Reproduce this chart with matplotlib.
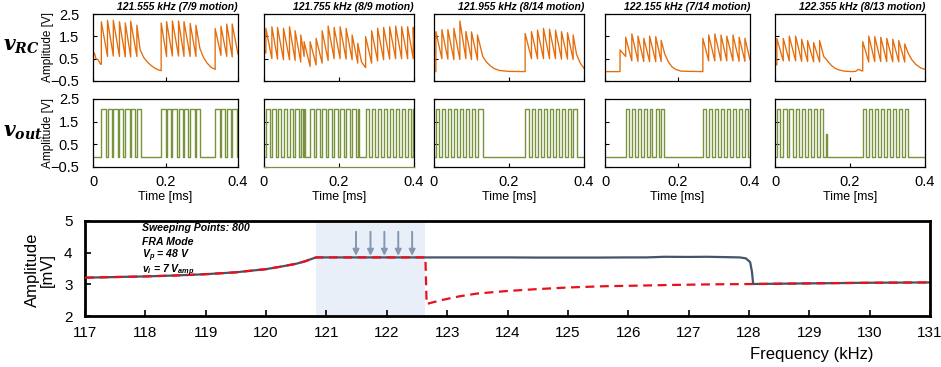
import matplotlib
matplotlib.use("Agg")
import matplotlib.pyplot as plt
import numpy as np

plt.rcParams["font.family"] = ["Liberation Sans", "DejaVu Sans"]
plt.rcParams["mathtext.fontset"] = "custom"
plt.rcParams["mathtext.it"] = "Liberation Sans:italic:bold"
plt.rcParams["mathtext.rm"] = "Liberation Sans:italic:bold"
plt.rcParams["mathtext.bf"] = "DejaVu Serif:italic:bold"

# ---- top panels: titles ----
TITLES = [
    "121.555 kHz (7/9 motion)",
    "121.755 kHz (8/9 motion)",
    "121.955 kHz (8/14 motion)",
    "122.155 kHz (7/14 motion)",
    "122.355 kHz (8/13 motion)",
]

# v_RC traces: vertex time [ms], value just before and just after the vertex [V]
P1_RC_T = [0.000, 0.004, 0.008, 0.014, 0.021,
           0.023, 0.040, 0.056, 0.073, 0.089, 0.104, 0.121,
           0.130, 0.140, 0.150, 0.160, 0.170, 0.180,
           0.188, 0.203, 0.219, 0.236, 0.251, 0.268, 0.284,
           0.295, 0.305, 0.315, 0.325,
           0.337, 0.353, 0.369, 0.384, 0.400]
P1_RC_LO = [0.62, 0.75, 0.50, 0.45, 0.25,
            0.25, 0.60, 0.62, 0.60, 0.58, 0.58, 0.60,
            0.90, 0.55, 0.35, 0.20, 0.08, 0.00,
            -0.04, 0.60, 0.62, 0.62, 0.60, 0.60, 0.60,
            0.95, 0.55, 0.30, 0.12,
            0.02, 0.65, 0.60, 0.58, 0.70]
P1_RC_HI = [0.62, 0.75, 0.50, 0.45, 0.25,
            2.15, 2.22, 2.22, 2.15, 2.10, 2.18, 2.00,
            0.90, 0.55, 0.35, 0.20, 0.08, 0.00,
            2.10, 2.16, 2.19, 2.19, 2.16, 2.08, 2.00,
            0.95, 0.55, 0.30, 0.12,
            1.85, 1.95, 2.05, 2.05, 0.70]

P2_RC_T = [0.000, 0.005, 0.021, 0.036, 0.052, 0.068, 0.083, 0.098, 0.107,
           0.123, 0.139, 0.155, 0.171, 0.187, 0.203, 0.219, 0.235, 0.250,
           0.260, 0.270,
           0.271, 0.287, 0.303, 0.319, 0.335, 0.351, 0.367, 0.383, 0.398, 0.400]
P2_RC_LO = [0.90, 0.75, 0.50, 0.48, 0.45, 0.45, 0.42, 0.35, 0.60,
            0.15, 0.22, 0.30, 0.42, 0.50, 0.50, 0.48, 0.45, 0.30,
            0.35, 0.12,
            0.10, 0.30, 0.40, 0.45, 0.48, 0.50, 0.50, 0.50, 0.50, 0.90]
P2_RC_HI = [0.90, 1.86, 1.93, 1.90, 1.86, 1.93, 1.75, 1.56, 1.26,
            1.26, 1.41, 1.75, 1.96, 1.90, 1.93, 1.86, 1.56, 1.19,
            0.35, 0.12,
            1.49, 1.75, 1.86, 1.90, 1.93, 1.96, 1.93, 1.93, 1.90, 0.90]

P3_RC_T = [0.000,
           0.005, 0.021, 0.037, 0.053, 0.069, 0.085, 0.100, 0.116,
           0.130, 0.140, 0.150, 0.160, 0.175, 0.200, 0.242,
           0.243, 0.260, 0.276, 0.292, 0.308, 0.324, 0.340, 0.356, 0.371,
           0.380, 0.390, 0.400]
P3_RC_LO = [-0.08,
            -0.08, 0.50, 0.48, 0.46, 0.46, 0.50, 0.46, 0.44,
            0.60, 0.35, 0.18, 0.06, -0.03, -0.07, -0.08,
            -0.08, 0.50, 0.50, 0.50, 0.50, 0.50, 0.48, 0.48, 0.46,
            0.70, 0.30, 0.07]
P3_RC_HI = [-0.08,
            1.71, 1.80, 1.80, 1.86, 2.19, 1.72, 1.70, 1.56,
            0.60, 0.35, 0.18, 0.06, -0.03, -0.07, -0.08,
            1.63, 1.71, 1.78, 1.86, 1.82, 1.78, 1.71, 1.66, 1.56,
            0.70, 0.30, 0.07]

P4_RC_T = [0.000, 0.0415,
           0.057, 0.074, 0.091, 0.107, 0.123, 0.140, 0.155,
           0.165, 0.175, 0.185, 0.195, 0.210, 0.269,
           0.270, 0.286, 0.303, 0.320, 0.336, 0.353, 0.370, 0.386, 0.400]
P4_RC_LO = [-0.08, -0.08,
            0.60, 0.40, 0.38, 0.37, 0.37, 0.37, 0.37,
            0.70, 0.35, 0.13, 0.02, -0.06, -0.08,
            -0.08, 0.40, 0.40, 0.40, 0.40, 0.40, 0.38, 0.38, 0.45]
P4_RC_HI = [-0.08, 0.89,
            1.46, 1.61, 1.51, 1.41, 1.51, 1.49, 1.32,
            0.70, 0.35, 0.13, 0.02, -0.06, -0.08,
            1.41, 1.56, 1.61, 1.56, 1.51, 1.56, 1.46, 1.41, 0.45]

P5_RC_T = [0.000,
           0.005, 0.022, 0.038, 0.055, 0.071, 0.087, 0.103, 0.119,
           0.130, 0.140, 0.150, 0.160, 0.170, 0.185, 0.205, 0.215, 0.222, 0.226, 0.232,
           0.234, 0.250, 0.266, 0.282, 0.298, 0.314, 0.330, 0.346,
           0.355, 0.365, 0.375, 0.388, 0.400]
P5_RC_LO = [0.30,
            0.22, 0.40, 0.40, 0.40, 0.38, 0.37, 0.36, 0.35,
            0.60, 0.40, 0.20, 0.07, 0.00, -0.06, -0.08, -0.07, 0.02, 0.00, -0.05,
            -0.05, 0.35, 0.37, 0.37, 0.37, 0.36, 0.36, 0.35,
            0.75, 0.45, 0.25, 0.09, 0.02]
P5_RC_HI = [0.30,
            1.40, 1.41, 1.51, 1.51, 1.37, 1.31, 1.22, 1.31,
            0.60, 0.40, 0.20, 0.07, 0.00, -0.06, -0.08, -0.07, 0.02, 0.00, -0.05,
            1.26, 1.51, 1.49, 1.46, 1.41, 1.37, 1.31, 1.16,
            0.75, 0.45, 0.25, 0.09, 0.02]

# v_out pulses: rising / falling edge times [ms]
OUT_LOW = -0.07
OUT_HIGH = 2.07
P1_OUT_RISE = [0.023, 0.040, 0.056, 0.073, 0.089, 0.104, 0.121,
               0.188, 0.203, 0.219, 0.236, 0.251, 0.268, 0.284,
               0.337, 0.353, 0.369, 0.384]
P1_OUT_FALL = [0.035, 0.052, 0.068, 0.084, 0.101, 0.116, 0.132,
               0.200, 0.215, 0.232, 0.248, 0.263, 0.280, 0.296,
               0.349, 0.365, 0.381, 0.396]
P2_OUT_RISE = [0.005, 0.021, 0.036, 0.052, 0.068, 0.083, 0.098, 0.107,
               0.123, 0.139, 0.155, 0.171, 0.187, 0.203, 0.219, 0.235, 0.250,
               0.271, 0.287, 0.303, 0.319, 0.335, 0.351, 0.367, 0.383, 0.398]
P2_OUT_FALL = [0.015, 0.031, 0.046, 0.062, 0.078, 0.093, 0.104, 0.109,
               0.133, 0.149, 0.165, 0.181, 0.197, 0.213, 0.229, 0.245, 0.252,
               0.281, 0.297, 0.313, 0.329, 0.345, 0.361, 0.377, 0.393, 0.400]
P3_OUT_RISE = [0.005, 0.021, 0.037, 0.053, 0.069, 0.085, 0.100, 0.116,
               0.243, 0.260, 0.276, 0.292, 0.308, 0.324, 0.340, 0.356, 0.371]
P3_OUT_FALL = [0.014, 0.030, 0.046, 0.062, 0.078, 0.094, 0.109, 0.130,
               0.252, 0.269, 0.285, 0.301, 0.317, 0.333, 0.349, 0.365, 0.380]
P4_OUT_RISE = [0.057, 0.074, 0.091, 0.107, 0.123, 0.140, 0.155,
               0.270, 0.286, 0.303, 0.320, 0.336, 0.353, 0.370, 0.386]
P4_OUT_FALL = [0.066, 0.082, 0.099, 0.116, 0.131, 0.148, 0.164,
               0.278, 0.295, 0.311, 0.328, 0.345, 0.361, 0.378, 0.395]
P5_OUT_RISE = [0.005, 0.022, 0.038, 0.055, 0.071, 0.087, 0.103, 0.119, 0.1366,
               0.234, 0.250, 0.266, 0.282, 0.298, 0.314, 0.330, 0.346]
P5_OUT_FALL = [0.014, 0.031, 0.047, 0.064, 0.080, 0.096, 0.112, 0.128, 0.1376,
               0.243, 0.259, 0.275, 0.291, 0.307, 0.323, 0.339, 0.355]
P5_OUT_HIGH = [2.07, 2.07, 2.07, 2.07, 2.07, 2.07, 2.07, 2.07, 0.95,
               2.07, 2.07, 2.07, 2.07, 2.07, 2.07, 2.07, 2.07]

TIME_TICKS = [0, 0.2, 0.4]
VOLT_TICKS = [-0.5, 0.5, 1.5, 2.5]

# ---- bottom panel: FRA sweep ----
FREQ_BLUE = [117.0, 117.5, 118.0, 118.5, 119.0, 119.5, 120.0, 120.25, 120.5,
             120.65, 120.75, 120.83, 121.5, 122.0, 122.65, 123.0, 123.5, 124.0,
             124.5, 125.0, 125.5, 126.0, 126.3, 126.6, 127.0, 127.3, 127.6,
             127.85, 127.95, 128.02, 128.05, 128.07, 128.5, 129.0, 129.5,
             130.0, 130.5, 131.0]
AMP_BLUE = [3.21, 3.23, 3.25, 3.28, 3.32, 3.38, 3.48, 3.56, 3.65,
            3.73, 3.80, 3.85, 3.85, 3.85, 3.85, 3.85, 3.85, 3.85,
            3.845, 3.845, 3.845, 3.85, 3.85, 3.87, 3.865, 3.87, 3.86,
            3.85, 3.82, 3.70, 3.40, 3.01, 3.02, 3.03, 3.04,
            3.05, 3.055, 3.06]
FREQ_RED = [117.0, 117.5, 118.0, 118.5, 119.0, 119.5, 120.0, 120.25, 120.5,
            120.65, 120.75, 120.83, 121.5, 122.0, 122.64, 122.66, 122.9, 123.2,
            123.5, 124.0, 124.5, 125.0, 125.6, 126.2, 126.7, 127.4, 128.07,
            129.0, 130.0, 131.0]
AMP_RED = [3.21, 3.23, 3.25, 3.28, 3.32, 3.38, 3.48, 3.56, 3.65,
           3.73, 3.80, 3.85, 3.85, 3.85, 3.85, 2.38, 2.50, 2.62,
           2.71, 2.79, 2.85, 2.90, 2.94, 2.96, 2.98, 3.00, 3.01,
           3.03, 3.05, 3.06]
SHADE_F = (120.83, 122.63)
ARROW_F = [121.49, 121.73, 121.96, 122.19, 122.42]
ARROW_TOP, ARROW_TIP = 4.66, 3.90
NOTES = ["Sweeping Points: 800", "FRA Mode", r"$V_p$ = 48 V", r"$v_i$ = 7 $V_{amp}$"]

ORANGE = "#e46c0a"
GREEN = "#77933c"
NAVY = "#44546a"
RED = "#e8101a"

W, H = 941, 367
fig = plt.figure(figsize=(W / 100, H / 100), dpi=100)


def add_px_axes(left, top, right, bottom):
    return fig.add_axes([left / W, 1 - bottom / H, (right - left) / W, (bottom - top) / H])


def rc_path(t, lo, hi):
    xs = np.repeat(np.asarray(t), 2)
    ys = np.column_stack([lo, hi]).ravel()
    return xs, ys


def pulse_path(rises, falls, highs=None):
    if highs is None:
        highs = [OUT_HIGH] * len(rises)
    xs, ys = [0.0], [OUT_LOW]
    for r, f, h in zip(rises, falls, highs):
        xs += [r, r, f, f]
        ys += [OUT_LOW, h, h, OUT_LOW]
    xs.append(0.4)
    ys.append(OUT_LOW)
    return xs, ys


rc_series = [(P1_RC_T, P1_RC_LO, P1_RC_HI), (P2_RC_T, P2_RC_LO, P2_RC_HI),
             (P3_RC_T, P3_RC_LO, P3_RC_HI), (P4_RC_T, P4_RC_LO, P4_RC_HI),
             (P5_RC_T, P5_RC_LO, P5_RC_HI)]
out_series = [(P1_OUT_RISE, P1_OUT_FALL, None), (P2_OUT_RISE, P2_OUT_FALL, None),
              (P3_OUT_RISE, P3_OUT_FALL, None), (P4_OUT_RISE, P4_OUT_FALL, None),
              (P5_OUT_RISE, P5_OUT_FALL, P5_OUT_HIGH)]

panel_x = [(93, 238), (264, 414), (434, 584), (605, 750), (775, 925)]

for i, (x0, x1) in enumerate(panel_x):
    ax_rc = add_px_axes(x0, 14, x1, 81)
    ax_out = add_px_axes(x0, 99, x1, 167)

    ax_rc.plot(*rc_path(*rc_series[i]), color=ORANGE, lw=0.95)
    ax_out.plot(*pulse_path(*out_series[i]), color=GREEN, lw=1.0)

    ax_rc.set_title(TITLES[i], loc="right", fontsize=7.5, fontweight="bold",
                    style="italic", pad=3)

    for ax in (ax_rc, ax_out):
        ax.set_xlim(0, 0.4)
        ax.set_ylim(-0.5, 2.5)
        ax.set_xticks(TIME_TICKS)
        ax.set_yticks(VOLT_TICKS)
        ax.tick_params(direction="in", length=3, width=0.8, labelsize=10.5)
        ax.tick_params(axis="y", pad=10)
        ax.tick_params(axis="x", pad=6)
        for s in ax.spines.values():
            s.set_linewidth(0.9)
        if i > 0:
            ax.set_yticklabels([])
    ax_rc.set_xticklabels([])
    ax_out.set_xticklabels(["0", "0.2", "0.4"])
    ax_out.set_xlabel("Time [ms]", fontsize=9, labelpad=1)
    if i == 1:
        ax_out.spines["bottom"].set_color(GREEN)

fig.text(48 / W, 1 - 47 / H, "Amplitude [V]", rotation=90, fontsize=8.5,
         ha="center", va="center")
fig.text(48 / W, 1 - 133 / H, "Amplitude [V]", rotation=90, fontsize=8.5,
         ha="center", va="center")
fig.text(3 / W, 1 - 47 / H, r"$\mathbf{v}_{\mathbf{RC}}$", fontsize=14.5,
         ha="left", va="center")
fig.text(3 / W, 1 - 133 / H, r"$\mathbf{v}_{\mathbf{out}}$", fontsize=14.5,
         ha="left", va="center")

# ---- bottom panel ----
ax = add_px_axes(85, 221, 930, 316)
ax.axvspan(*SHADE_F, color="#e9eff8", zorder=0, lw=0)
ax.plot(FREQ_BLUE, AMP_BLUE, color=NAVY, lw=1.6, zorder=2)
ax.plot(FREQ_RED, AMP_RED, color=RED, lw=1.6, dashes=(4, 2.5), zorder=3)
for f in ARROW_F:
    ax.annotate("", xy=(f, ARROW_TIP), xytext=(f, ARROW_TOP),
                arrowprops=dict(arrowstyle="-|>", color="#8497b0", lw=1.4,
                                mutation_scale=9, shrinkA=0, shrinkB=0))
# baselines of the four note lines, in axes fraction
note_y = [0.89, 0.75, 0.61, 0.455]
for txt, y in zip(NOTES, note_y):
    ax.text(0.067, y, txt, transform=ax.transAxes, fontsize=7.6, fontweight="bold",
            style="italic", ha="left", va="baseline")

ax.set_xlim(117, 131)
ax.set_ylim(2, 5)
ax.set_xticks(np.arange(117, 132, 1))
ax.set_yticks([2, 3, 4, 5])
ax.tick_params(direction="in", length=4, width=1.2, labelsize=11)
ax.tick_params(axis="x", pad=7)
ax.tick_params(axis="y", pad=9)
for s in ax.spines.values():
    s.set_linewidth(2.0)

fig.text(40 / W, 1 - 270 / H, "Amplitude\n[mV]", rotation=90, fontsize=12,
         ha="center", va="center", multialignment="center", linespacing=1.0)
fig.text(812 / W, 1 - 355 / H, "Frequency (kHz)", fontsize=12,
         ha="center", va="center")

fig.savefig("out.png", dpi=100)
